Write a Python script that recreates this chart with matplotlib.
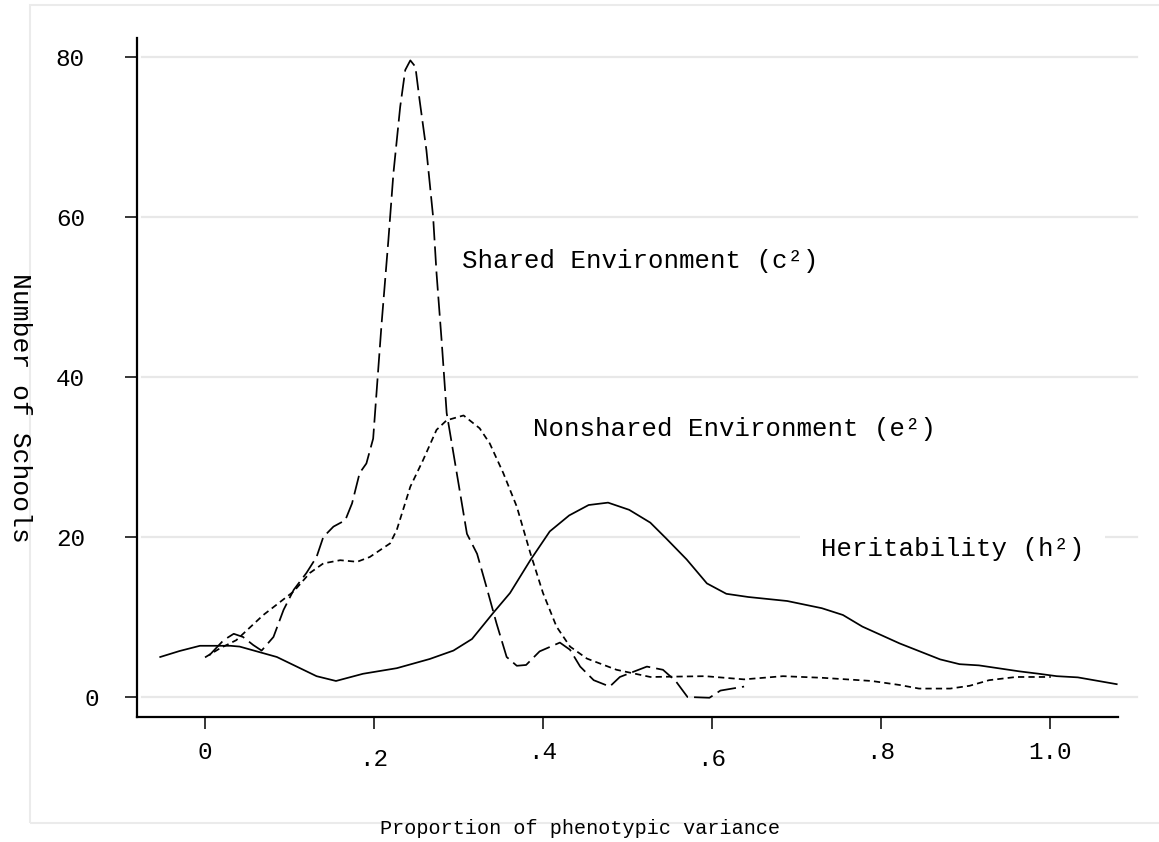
import matplotlib
matplotlib.use('Agg')
import matplotlib.pyplot as plt
from matplotlib.patches import Rectangle

# 字体：等宽（近似 Stata 的 Courier 风格）
plt.rcParams['font.family'] = ['Liberation Mono', 'DejaVu Sans Mono']

# ---- 数据 ----
# Heritability (h^2) —— 实线
h_x = [-0.053, -0.030, -0.006, 0.030, 0.041, 0.085, 0.132, 0.155, 0.187, 0.227,
       0.266, 0.294, 0.316, 0.341, 0.361, 0.385, 0.408, 0.431, 0.454, 0.477,
       0.502, 0.527, 0.546, 0.570, 0.594, 0.617, 0.643, 0.689, 0.730, 0.755,
       0.778, 0.822, 0.870, 0.893, 0.916, 0.964, 0.987, 1.008, 1.033, 1.079]
h_y = [5.0, 5.75, 6.4, 6.4, 6.3, 5.0, 2.6, 2.0, 2.9, 3.6,
       4.75, 5.8, 7.25, 10.5, 13.0, 17.1, 20.7, 22.7, 24.0, 24.3,
       23.4, 21.8, 19.8, 17.2, 14.2, 12.9, 12.5, 12.0, 11.1, 10.25,
       8.8, 6.7, 4.7, 4.1, 3.95, 3.2, 2.9, 2.6, 2.45, 1.6]

# Shared Environment (c^2) —— 长虚线
c_x = [0.005, 0.022, 0.034, 0.045, 0.057, 0.067, 0.081, 0.093, 0.105, 0.120,
       0.132, 0.140, 0.152, 0.166, 0.174, 0.183, 0.191, 0.199, 0.209, 0.217,
       0.223, 0.231, 0.237, 0.243, 0.249, 0.254, 0.262, 0.270, 0.274, 0.280,
       0.286, 0.290, 0.300, 0.310, 0.322, 0.333, 0.345, 0.357, 0.369, 0.380,
       0.396, 0.420, 0.432, 0.444, 0.460, 0.479, 0.491, 0.523, 0.542, 0.557,
       0.571, 0.597, 0.610, 0.638]
c_y = [5.2, 7.1, 7.9, 7.5, 6.5, 5.8, 7.5, 10.9, 13.4, 15.5,
       17.5, 20.0, 21.3, 22.1, 24.2, 28.0, 29.2, 32.3, 46.7, 57.1,
       65.5, 73.8, 78.4, 79.6, 78.8, 74.6, 68.4, 60.0, 53.0, 44.6,
       35.5, 33.0, 26.7, 20.4, 17.9, 13.8, 9.2, 5.0, 3.9, 4.0,
       5.7, 6.8, 5.9, 3.8, 2.1, 1.3, 2.5, 3.8, 3.4, 2.0,
       0.0, -0.1, 0.8, 1.3]

# Nonshared Environment (e^2) —— 短虚线
e_x = [0.0, 0.018, 0.037, 0.069, 0.105, 0.124, 0.140, 0.160, 0.180, 0.195,
       0.219, 0.227, 0.243, 0.258, 0.274, 0.286, 0.306, 0.325, 0.337, 0.353,
       0.369, 0.385, 0.400, 0.416, 0.432, 0.452, 0.487, 0.527, 0.592, 0.638,
       0.684, 0.730, 0.789, 0.822, 0.845, 0.882, 0.905, 0.928, 0.960, 1.001]
e_y = [4.95, 6.1, 7.1, 10.25, 13.2, 15.5, 16.7, 17.1, 16.9, 17.5,
       19.2, 20.9, 26.3, 29.6, 33.4, 34.6, 35.2, 33.6, 31.7, 28.0,
       23.8, 18.0, 13.0, 8.8, 6.3, 4.8, 3.4, 2.5, 2.6, 2.2,
       2.6, 2.4, 2.0, 1.5, 1.05, 1.05, 1.4, 2.1, 2.5, 2.5]

x_ticks = [0, 0.2, 0.4, 0.6, 0.8, 1.0]
x_labels = ['0', '.2', '.4', '.6', '.8', '1.0']
y_ticks = [0, 20, 40, 60, 80]
y_labels = ['0', '20', '40', '60', '80']

fig = plt.figure(figsize=(11.59, 8.42), dpi=100)
ax = fig.add_axes([0.1182, 0.1485, 0.8464, 0.8064])

# 外框（浅灰）
fig.patches.append(Rectangle((0.0259, 0.0226), 1.0, 0.9714, transform=fig.transFigure,
                             fill=False, edgecolor='#ebebeb', linewidth=1.5, zorder=0))

# 网格线
for yv in y_ticks:
    ax.axhline(yv, xmin=0.005, xmax=1.019, color='#e8e8e8', linewidth=1.6,
               clip_on=False, zorder=0)

ax.plot(h_x, h_y, color='black', linewidth=1.25, linestyle='-')
ln_c, = ax.plot(c_x, c_y, color='black', linewidth=1.25)
ln_c.set_dashes((11, 3.5))
ln_e, = ax.plot(e_x, e_y, color='black', linewidth=1.25)
ln_e.set_dashes((3.6, 2.4))

# 曲线标注
ax.text(0.304, 53.6, 'Shared Environment (c²)', fontsize=18.5, ha='left', va='baseline')
ax.text(0.388, 32.6, 'Nonshared Environment (e²)', fontsize=18.5, ha='left', va='baseline')
ax.text(0.729, 17.6, 'Heritability (h²)', fontsize=18.5, ha='left', va='baseline',
        bbox=dict(boxstyle='square,pad=0.8', facecolor='white', edgecolor='none'))

ax.set_xlim(-0.0805, 1.0805)
ax.set_ylim(-2.5, 82.4)
ax.set_xticks(x_ticks)
ax.set_xticklabels(x_labels)
ax.set_yticks(y_ticks)
ax.set_yticklabels(y_labels)

for side in ['top', 'right']:
    ax.spines[side].set_visible(False)
for side in ['left', 'bottom']:
    ax.spines[side].set_linewidth(1.6)
ax.tick_params(axis='both', direction='out', length=8.6, width=1.1, labelsize=17.5)
ax.tick_params(axis='x', pad=9)
ax.tick_params(axis='y', pad=29)

# Stata 风格：.2 和 .6 标签稍低；y 轴 "0" 靠右
xt = ax.get_xticklabels()
for i in (1, 3):
    xt[i].set_y(-0.009)
yt = ax.get_yticklabels()
yt[0].set_x(0.015)

fig.text(20 / 1159, 1 - 408 / 842, 'Number of Schools', rotation=-90, fontsize=19,
         ha='center', va='center')
fig.text(580 / 1159, 1 - 829 / 842, 'Proportion of phenotypic variance', fontsize=14.5,
         ha='center', va='center')

plt.savefig('out.png', dpi=100)
